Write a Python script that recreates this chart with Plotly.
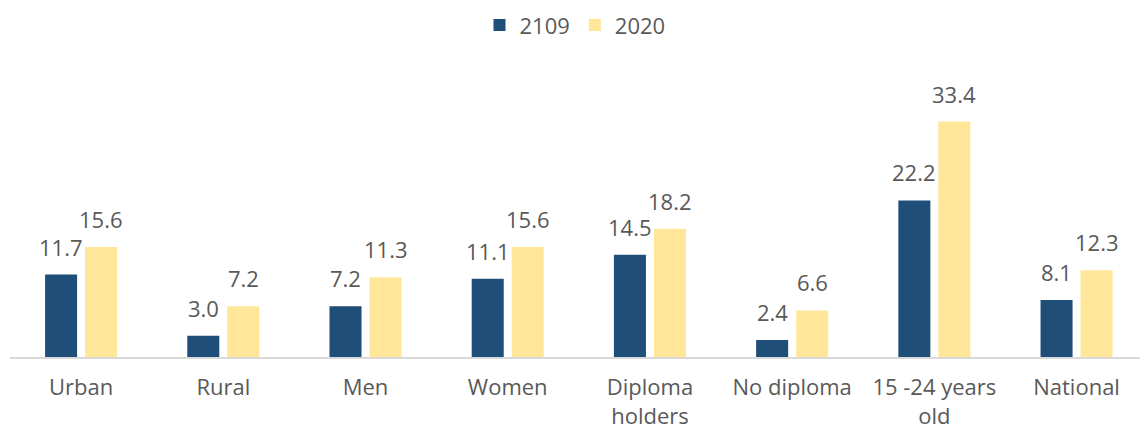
import plotly.graph_objects as go

categories = ["Urban", "Rural", "Men", "Women", "Diploma<br>holders",
              "No diploma", "15 -24 years<br>old", "National"]
series_names = ["2109", "2020"]
values_2109 = [11.7, 3.0, 7.2, 11.1, 14.5, 2.4, 22.2, 8.1]
values_2020 = [15.6, 7.2, 11.3, 15.6, 18.2, 6.6, 33.4, 12.3]

colors = ["#1F4E79", "#FFE699"]
text_color = "#595959"
font_family = "Open Sans, Noto Sans, sans-serif"

fig = go.Figure()
for name, vals, col in zip(series_names, [values_2109, values_2020], colors):
    fig.add_trace(go.Bar(
        name=name, x=categories, y=vals,
        marker=dict(color=col, line=dict(width=0)),
        hoverinfo="x+y",
    ))

# value labels above each bar
for shift, vals in zip([-20, 20], [values_2109, values_2020]):
    for c, v in zip(categories, vals):
        fig.add_annotation(
            x=c, y=v, text=f"{v:.1f}", showarrow=False,
            xshift=shift, yshift=11, yanchor="bottom",
            font=dict(size=22, color=text_color, family=font_family),
        )

fig.update_layout(
    width=1140, height=430,
    margin=dict(l=10, r=0, t=75, b=73),
    paper_bgcolor="white", plot_bgcolor="white",
    barmode="group", bargap=0.437, bargroupgap=0.2,
    font=dict(family=font_family, color=text_color, size=22),
    showlegend=True,
    legend=dict(orientation="h", x=0.5, xanchor="center", y=0.99, yref="container",
                yanchor="top", font=dict(size=22, color=text_color),
                itemwidth=30, traceorder="normal"),
    xaxis=dict(range=[-0.5, 7.446], showline=True, linecolor="#D9D9D9", linewidth=2,
               ticks="", showgrid=False, ticklabelstandoff=10,
               tickfont=dict(size=22, color=text_color)),
    yaxis=dict(range=[0, 40], visible=False, showgrid=False),
)

fig.write_html("out.html")
